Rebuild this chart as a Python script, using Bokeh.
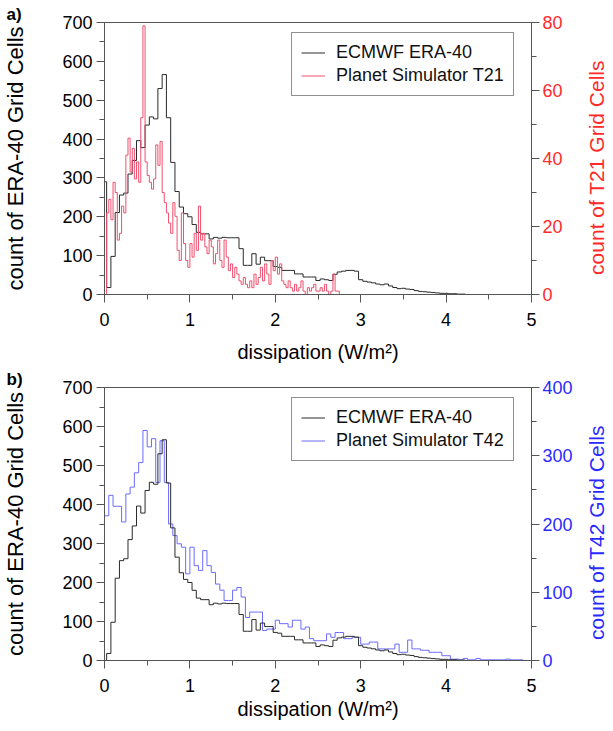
import numpy as np
from bokeh.plotting import figure
from bokeh.models import (Range1d, LinearAxis, SingleIntervalTicker, Legend,
                          LegendItem, Title)
from bokeh.layouts import column, row
from bokeh.embed import file_html
from bokeh.resources import INLINE

# ---------------- data ----------------
# ERA-40 histogram: bins of 0.05 W/m^2 centred on 0.00, 0.05, ... 4.95
era40_bin_width = 0.05
era40_counts = [
    290, 18, 98, 211, 256, 261, 310, 345, 396, 378,     # 0.00-0.45
    436, 457, 452, 530, 566, 455, 340, 265, 225, 208,   # 0.50-0.95
    200, 180, 160, 156, 156, 143, 147, 145, 147, 146,   # 1.00-1.45
    146, 146, 118, 75, 75, 105, 78, 96, 87, 87,         # 1.50-1.95
    72, 70, 62, 62, 62, 53, 53, 45, 45, 45,             # 2.00-2.45
    36, 40, 38, 36, 52, 58, 60, 62, 62, 60,             # 2.50-2.95
    38, 34, 32, 30, 27, 25, 27, 22, 18, 15,             # 3.00-3.45
    16, 14, 13, 10, 8, 7, 6, 5, 4, 3,                   # 3.50-3.95
    3, 2, 2, 1, 1, 0, 0, 0, 0, 0,                       # 4.00-4.45
    0, 0, 0, 0, 0, 0, 0, 0, 0, 0,                       # 4.50-4.95
]
era40_first_bin_b = 0   # first (0.00) bin as drawn in panel b

# Planet Simulator T21: bins of 0.025 starting at 0
t21_bin_width = 0.025
t21_counts = [
    0, 24, 28, 22, 33, 30, 16, 18, 26, 24,
    41, 46, 36, 43, 34, 39, 33, 52, 79, 39,
    35, 33, 31, 34, 44, 38, 45, 30, 27, 24,
    21, 18, 27, 23, 13, 10, 24, 15, 10, 8,
    15, 11, 18, 13, 26, 16, 18, 14, 12, 16,
    14, 9, 12, 16, 10, 8, 16, 11, 7, 9,
    5, 8, 6, 4, 3, 5, 3, 2, 4, 2,
    6, 3, 5, 8, 4, 9, 6, 3, 10, 7,
    11, 6, 9, 4, 3, 2, 4, 2, 1, 3,
    1, 2, 4, 1, 0, 2, 1, 2, 3, 1,
    1, 2, 1, 3, 1, 0, 1, 6, 1, 1,
    0, 0,
]

# Planet Simulator T42: bins of 0.05 starting at 0
t42_bin_width = 0.05
t42_counts = [
    212, 242, 226, 226, 203, 244, 254, 275, 290, 337,   # 0.00-0.45
    313, 325, 261, 322, 261, 200, 183, 171, 166, 127,   # 0.50-0.95
    166, 139, 132, 161, 139, 129, 112, 103, 88, 88,     # 1.00-1.45
    103, 107, 93, 63, 71, 71, 71, 44, 46, 46,           # 1.50-1.95
    59, 54, 54, 49, 59, 59, 46, 49, 32, 29,             # 2.00-2.45
    29, 29, 39, 34, 41, 41, 32, 32, 34, 34,             # 2.50-2.95
    24, 24, 27, 27, 17, 17, 17, 17, 24, 12,             # 3.00-3.45
    12, 30, 17, 17, 15, 15, 12, 12, 12, 7,              # 3.50-3.95
    7, 2, 2, 1, 3, 1, 1, 3, 1, 1,                       # 4.00-4.45
    1, 1, 1, 1, 2, 1, 1, 1, 0, 0,                       # 4.50-4.95
]

x_label = "dissipation (W/m²)"
left_label = "count of ERA-40 Grid Cells"
right_label_a = "count of T21 Grid Cells"
right_label_b = "count of T42 Grid Cells"
legend_era = "ECMWF ERA-40"
legend_t21 = "Planet Simulator T21"
legend_t42 = "Planet Simulator T42"

# ---------------- style ----------------
FONT = "Liberation Sans"
AXC = "#555555"
BLACK_LINE = "#2a2a2a"
RED_LINE = "#f0506e"
RED_TEXT = "#ff2a2a"
BLUE_LINE = "#6b6bff"
BLUE_TEXT = "#2a2aff"
X_MAX = 5
Y_MAX = 700


def steps(counts, width, offset):
    counts = np.asarray(counts, dtype=float)
    edges = offset + width * np.arange(len(counts) + 1)
    yy = np.append(counts, counts[-1])
    return edges, yy


def style_axis(ax, color="#000000", label_size="20px"):
    ax.axis_line_color = AXC
    ax.major_tick_line_color = AXC
    ax.minor_tick_line_color = AXC
    ax.major_tick_in = 0
    ax.major_tick_out = 8
    ax.minor_tick_in = 0
    ax.minor_tick_out = 5
    ax.major_label_text_font = FONT
    ax.major_label_text_font_size = "18px"
    ax.major_label_text_color = color
    ax.axis_label_text_font = FONT
    ax.axis_label_text_font_size = label_size
    ax.axis_label_text_font_style = "normal"
    ax.axis_label_text_color = color


def make_panel(fh, top, bottom, right_range, right_interval, right_color,
               tag, x_label_standoff):
    p = figure(frame_width=427, frame_height=fh,
               x_range=Range1d(0, X_MAX), y_range=Range1d(0, Y_MAX),
               output_backend="svg", toolbar_location=None,
               min_border_left=102, min_border_right=51,
               min_border_top=top, min_border_bottom=bottom)
    p.grid.visible = False
    p.outline_line_color = AXC
    p.background_fill_color = "white"
    p.border_fill_color = "white"

    p.title.text = tag
    p.title.align = "left"
    p.title.offset = -98
    p.title.standoff = -2
    p.title.text_font = FONT
    p.title.text_font_size = "17px"
    p.title.text_font_style = "bold"
    p.title.text_color = "#000000"

    xa = p.xaxis[0]
    xa.ticker = SingleIntervalTicker(interval=1, num_minor_ticks=2)
    xa.axis_label = x_label
    style_axis(xa)
    xa.major_label_standoff = 10
    xa.axis_label_standoff = x_label_standoff

    ya = p.yaxis[0]
    ya.ticker = SingleIntervalTicker(interval=100, num_minor_ticks=2)
    ya.axis_label = left_label
    style_axis(ya, label_size="22px")
    ya.major_label_standoff = 4
    ya.axis_label_standoff = 31

    p.extra_y_ranges = {"r": Range1d(0, right_range)}
    ra = LinearAxis(y_range_name="r",
                    ticker=SingleIntervalTicker(interval=right_interval,
                                                num_minor_ticks=2))
    style_axis(ra, right_color, label_size="22px")
    ra.major_label_standoff = 3
    p.add_layout(ra, "right")
    return p


def side_title(strip_h, text, color):
    """Narrow strip holding the right-hand axis title, reading bottom-to-top."""
    s = figure(frame_width=1, frame_height=strip_h,
               output_backend="svg", toolbar_location=None,
               x_axis_location=None, y_axis_location=None,
               min_border_left=0, min_border_right=0,
               min_border_top=0, min_border_bottom=0)
    s.grid.visible = False
    s.outline_line_color = None
    s.border_fill_color = "white"
    s.background_fill_color = "white"
    t = Title(text=text, align="center", text_font=FONT,
              text_font_size="21px", text_font_style="normal",
              text_color=color, standoff=0, offset=0)
    s.add_layout(t, "left")
    return s


def add_legend(p, items):
    leg = Legend(items=items, location=(187, p.frame_height - 12 - 62))
    leg.label_text_font = FONT
    leg.label_text_font_size = "18px"
    leg.label_text_color = "#111111"
    leg.border_line_color = "#222222"
    leg.border_line_width = 1
    leg.background_fill_alpha = 1.0
    leg.padding = 9
    leg.spacing = 2
    leg.glyph_width = 24
    leg.glyph_height = 21
    leg.label_height = 21
    leg.label_standoff = 11
    p.add_layout(leg)


# ---------------- panel a ----------------
pa = make_panel(272, 22, 74, 80, 20, RED_TEXT, "a)", 12)
ex, ey = steps(era40_counts, era40_bin_width, -era40_bin_width / 2)
r_era_a = pa.step(ex, ey, mode="after", line_color=BLACK_LINE, line_width=1.0)
rx, ry = steps(t21_counts, t21_bin_width, 0.0)
r_t21 = pa.step(rx, ry, mode="after", y_range_name="r",
                line_color=RED_LINE, line_width=1.0)
add_legend(pa, [LegendItem(label=legend_era, renderers=[r_era_a]),
                LegendItem(label=legend_t21, renderers=[r_t21])])
sa = side_title(290, right_label_a, RED_TEXT)

# ---------------- panel b ----------------
pb = make_panel(273, 15, 64, 400, 100, BLUE_TEXT, "b)", 3)
era_b = [era40_first_bin_b] + era40_counts[1:]
bx, by = steps(t42_counts, t42_bin_width, 0.0)
r_t42 = pb.step(bx, by, mode="after", y_range_name="r",
                line_color=BLUE_LINE, line_width=1.0)
ex2, ey2 = steps(era_b, era40_bin_width, -era40_bin_width / 2)
r_era_b = pb.step(ex2, ey2, mode="after", line_color=BLACK_LINE, line_width=1.0)
add_legend(pb, [LegendItem(label=legend_era, renderers=[r_era_b]),
                LegendItem(label=legend_t42, renderers=[r_t42])])
sb = side_title(290, right_label_b, BLUE_TEXT)

layout = column(row(pa, sa), row(pb, sb))
open("out.html", "w").write(file_html(layout, INLINE))
